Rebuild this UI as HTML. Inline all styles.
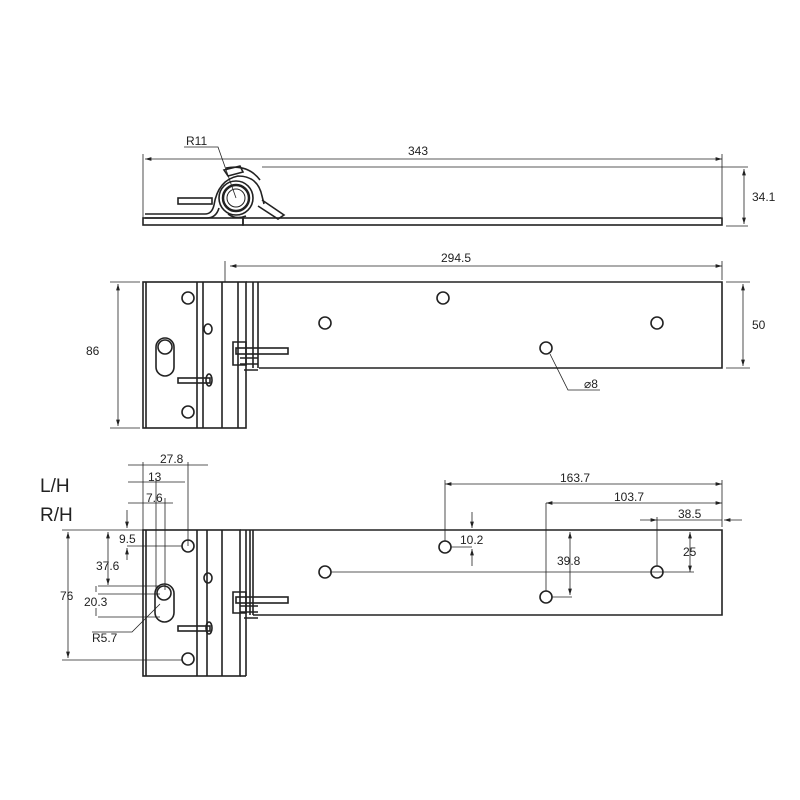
<!DOCTYPE html>
<html><head><meta charset="utf-8"><style>
html,body{margin:0;padding:0;background:#fff;width:800px;height:800px;overflow:hidden}
svg{display:block}
text{font-family:"Liberation Sans",sans-serif;fill:#222;stroke:none}
</style></head><body>
<svg width="800" height="800" viewBox="0 0 800 800" xmlns="http://www.w3.org/2000/svg">
<defs>
<marker id="a" viewBox="0 0 10 6" refX="10" refY="3" markerWidth="8" markerHeight="5" orient="auto-start-reverse"><path d="M0,0 L10,3 L0,6z" fill="#222" stroke="none"/></marker>
</defs>
<g stroke="#222" fill="none">
<!-- TOP VIEW -->
<g stroke-width="0.8">
<line x1="145" y1="159" x2="722" y2="159" marker-start="url(#a)" marker-end="url(#a)"/>
<line x1="143" y1="154" x2="143" y2="222"/>
<line x1="722" y1="154" x2="722" y2="217"/>
<line x1="262" y1="167" x2="748" y2="167"/>
<line x1="726" y1="226" x2="748" y2="226"/>
<line x1="744" y1="169" x2="744" y2="224" marker-start="url(#a)" marker-end="url(#a)"/>
<polyline points="184,147 218,147 236,198"/>
</g>
<g stroke-width="1.6">
<path d="M145,214 L205,214 Q212,214 214,205 Q218,180 238,176 Q258,176 262,196 L264,204"/>
<path d="M145,218 L207,218 Q216,218 219,208"/>
<rect x="143" y="218" width="100" height="7"/>
<rect x="243" y="218" width="479" height="7"/>
<circle cx="236" cy="198" r="17"/>
<circle cx="236" cy="198" r="13" stroke-width="2.5"/>
<circle cx="236" cy="198" r="9" stroke-width="1"/>
<path d="M226,168 Q248,164 260,180"/>
<rect x="178" y="198" width="34" height="6"/>
<path d="M224,170 L240,166 L243,172 L228,176z"/>
<path d="M262,200 L284,215 L278,219 L258,206"/>
<path d="M228,214 Q236,220 246,216"/>
</g>
<text x="186" y="145" font-size="12">R11</text>
<text x="408" y="155" font-size="12">343</text>
<text x="752" y="201" font-size="12">34.1</text>

<!-- MIDDLE VIEW -->
<g stroke-width="0.8">
<line x1="230" y1="266" x2="722" y2="266" marker-start="url(#a)" marker-end="url(#a)"/>
<line x1="225" y1="261" x2="225" y2="282"/>
<line x1="722" y1="261" x2="722" y2="280"/>
<line x1="726" y1="282" x2="750" y2="282"/>
<line x1="726" y1="368" x2="750" y2="368"/>
<line x1="743" y1="284" x2="743" y2="366" marker-start="url(#a)" marker-end="url(#a)"/>
<line x1="110" y1="282" x2="140" y2="282"/>
<line x1="110" y1="428" x2="140" y2="428"/>
<line x1="118" y1="284" x2="118" y2="426" marker-start="url(#a)" marker-end="url(#a)"/>
<polyline points="550,354 568,390 600,390"/>
</g>
<g stroke-width="1.6">
<rect x="143" y="282" width="103" height="146"/>
<line x1="146" y1="282" x2="146" y2="428"/>
<line x1="197" y1="282" x2="197" y2="428"/>
<line x1="203" y1="282" x2="203" y2="428"/>
<line x1="222" y1="282" x2="222" y2="428"/>
<line x1="238" y1="282" x2="238" y2="428"/>
<polyline points="246,282 722,282 722,368 259,368"/>
<line x1="253" y1="282" x2="253" y2="368"/>
<line x1="258" y1="282" x2="258" y2="368"/>
<circle cx="188" cy="298" r="6"/>
<ellipse cx="208" cy="329" rx="4" ry="5"/>
<rect x="156" y="338" width="18" height="38" rx="9"/>
<circle cx="165" cy="347" r="7"/>
<circle cx="188" cy="412" r="6"/>
<rect x="178" y="378" width="32" height="5"/>
<ellipse cx="209" cy="380" rx="3" ry="6"/>
<path d="M233,342 L233,365 L246,365 L246,342z"/>
<rect x="236" y="348" width="52" height="6"/>
<path d="M240,358 L258,358 M240,364 L258,364 M244,370 L258,370"/>
<circle cx="325" cy="323" r="6"/>
<circle cx="443" cy="298" r="6"/>
<circle cx="546" cy="348" r="6"/>
<circle cx="657" cy="323" r="6"/>
</g>
<text x="441" y="262" font-size="12">294.5</text>
<text x="752" y="329" font-size="12">50</text>
<text x="86" y="355" font-size="12">86</text>
<text x="584" y="388" font-size="12">⌀8</text>

<!-- BOTTOM VIEW -->
<text x="40" y="492" font-size="19">L/H</text>
<text x="40" y="521" font-size="19">R/H</text>
<g stroke-width="0.8">
<line x1="128" y1="465" x2="208" y2="465"/>
<line x1="128" y1="482" x2="185" y2="482"/>
<line x1="128" y1="503" x2="173" y2="503"/>
<line x1="143" y1="462" x2="143" y2="530"/>
<line x1="188" y1="462" x2="188" y2="546"/>
<line x1="156" y1="478" x2="156" y2="590"/>
<line x1="165" y1="498" x2="165" y2="590"/>
<line x1="62" y1="530" x2="143" y2="530"/>
<line x1="62" y1="660" x2="182" y2="660"/>
<line x1="68" y1="532" x2="68" y2="658" marker-start="url(#a)" marker-end="url(#a)"/>
<line x1="108" y1="532" x2="108" y2="585" marker-start="url(#a)" marker-end="url(#a)"/>
<line x1="98" y1="586" x2="160" y2="586"/>
<line x1="98" y1="594" x2="160" y2="594"/>
<line x1="98" y1="617" x2="160" y2="617"/>
<line x1="127" y1="510" x2="127" y2="528" marker-end="url(#a)"/>
<line x1="127" y1="560" x2="127" y2="548" marker-end="url(#a)"/>
<line x1="127" y1="546" x2="182" y2="546"/>
<line x1="96" y1="586" x2="96" y2="592"/>
<line x1="96" y1="608" x2="96" y2="616"/>
<polyline points="92,632 132,632 160,604"/>
<line x1="445" y1="484" x2="722" y2="484" marker-start="url(#a)" marker-end="url(#a)"/>
<line x1="546" y1="503" x2="722" y2="503" marker-start="url(#a)" marker-end="url(#a)"/>
<line x1="640" y1="520" x2="657" y2="520" marker-end="url(#a)"/>
<line x1="742" y1="520" x2="724" y2="520" marker-end="url(#a)"/>
<line x1="657" y1="520" x2="722" y2="520"/>
<line x1="722" y1="480" x2="722" y2="527"/>
<line x1="445" y1="480" x2="445" y2="541"/>
<line x1="546" y1="503" x2="546" y2="591"/>
<line x1="657" y1="517" x2="657" y2="566"/>
<line x1="472" y1="512" x2="472" y2="528" marker-end="url(#a)"/>
<line x1="472" y1="566" x2="472" y2="549" marker-end="url(#a)"/>
<line x1="451" y1="547" x2="472" y2="547"/>
<line x1="570" y1="532" x2="570" y2="595" marker-start="url(#a)" marker-end="url(#a)"/>
<line x1="552" y1="597" x2="572" y2="597"/>
<line x1="690" y1="532" x2="690" y2="572" marker-start="url(#a)" marker-end="url(#a)"/>
<line x1="331" y1="572" x2="694" y2="572"/>
</g>
<g stroke-width="1.6">
<rect x="143" y="530" width="97" height="146"/>
<line x1="146" y1="530" x2="146" y2="676"/>
<line x1="197" y1="530" x2="197" y2="676"/>
<line x1="207" y1="530" x2="207" y2="676"/>
<line x1="222" y1="530" x2="222" y2="676"/>
<polyline points="240,530 722,530 722,615 253,615"/>
<line x1="246" y1="530" x2="246" y2="676"/>
<line x1="240" y1="676" x2="246" y2="676"/>
<line x1="250" y1="530" x2="250" y2="615"/>
<line x1="253" y1="530" x2="253" y2="615"/>
<circle cx="188" cy="546" r="6"/>
<ellipse cx="208" cy="578" rx="4" ry="5"/>
<rect x="155" y="584" width="19" height="38" rx="9.5"/>
<circle cx="164" cy="593" r="7"/>
<circle cx="188" cy="659" r="6"/>
<rect x="178" y="626" width="32" height="5"/>
<ellipse cx="209" cy="628" rx="3" ry="6"/>
<path d="M233,592 L233,613 L246,613 L246,592z"/>
<rect x="236" y="597" width="52" height="6"/>
<path d="M240,606 L258,606 M240,612 L258,612 M244,618 L258,618"/>
<circle cx="325" cy="572" r="6"/>
<circle cx="445" cy="547" r="6"/>
<circle cx="546" cy="597" r="6"/>
<circle cx="657" cy="572" r="6"/>
</g>
<text x="160" y="463" font-size="12">27.8</text>
<text x="148" y="481" font-size="12">13</text>
<text x="146" y="502" font-size="12">7.6</text>
<text x="119" y="543" font-size="12">9.5</text>
<text x="96" y="570" font-size="12">37.6</text>
<text x="60" y="600" font-size="12">76</text>
<text x="84" y="606" font-size="12">20.3</text>
<text x="92" y="642" font-size="12">R5.7</text>
<text x="560" y="482" font-size="12">163.7</text>
<text x="614" y="501" font-size="12">103.7</text>
<text x="678" y="518" font-size="12">38.5</text>
<text x="460" y="544" font-size="12">10.2</text>
<text x="557" y="565" font-size="12">39.8</text>
<text x="683" y="556" font-size="12">25</text>
</g>
</svg>
</body></html>
